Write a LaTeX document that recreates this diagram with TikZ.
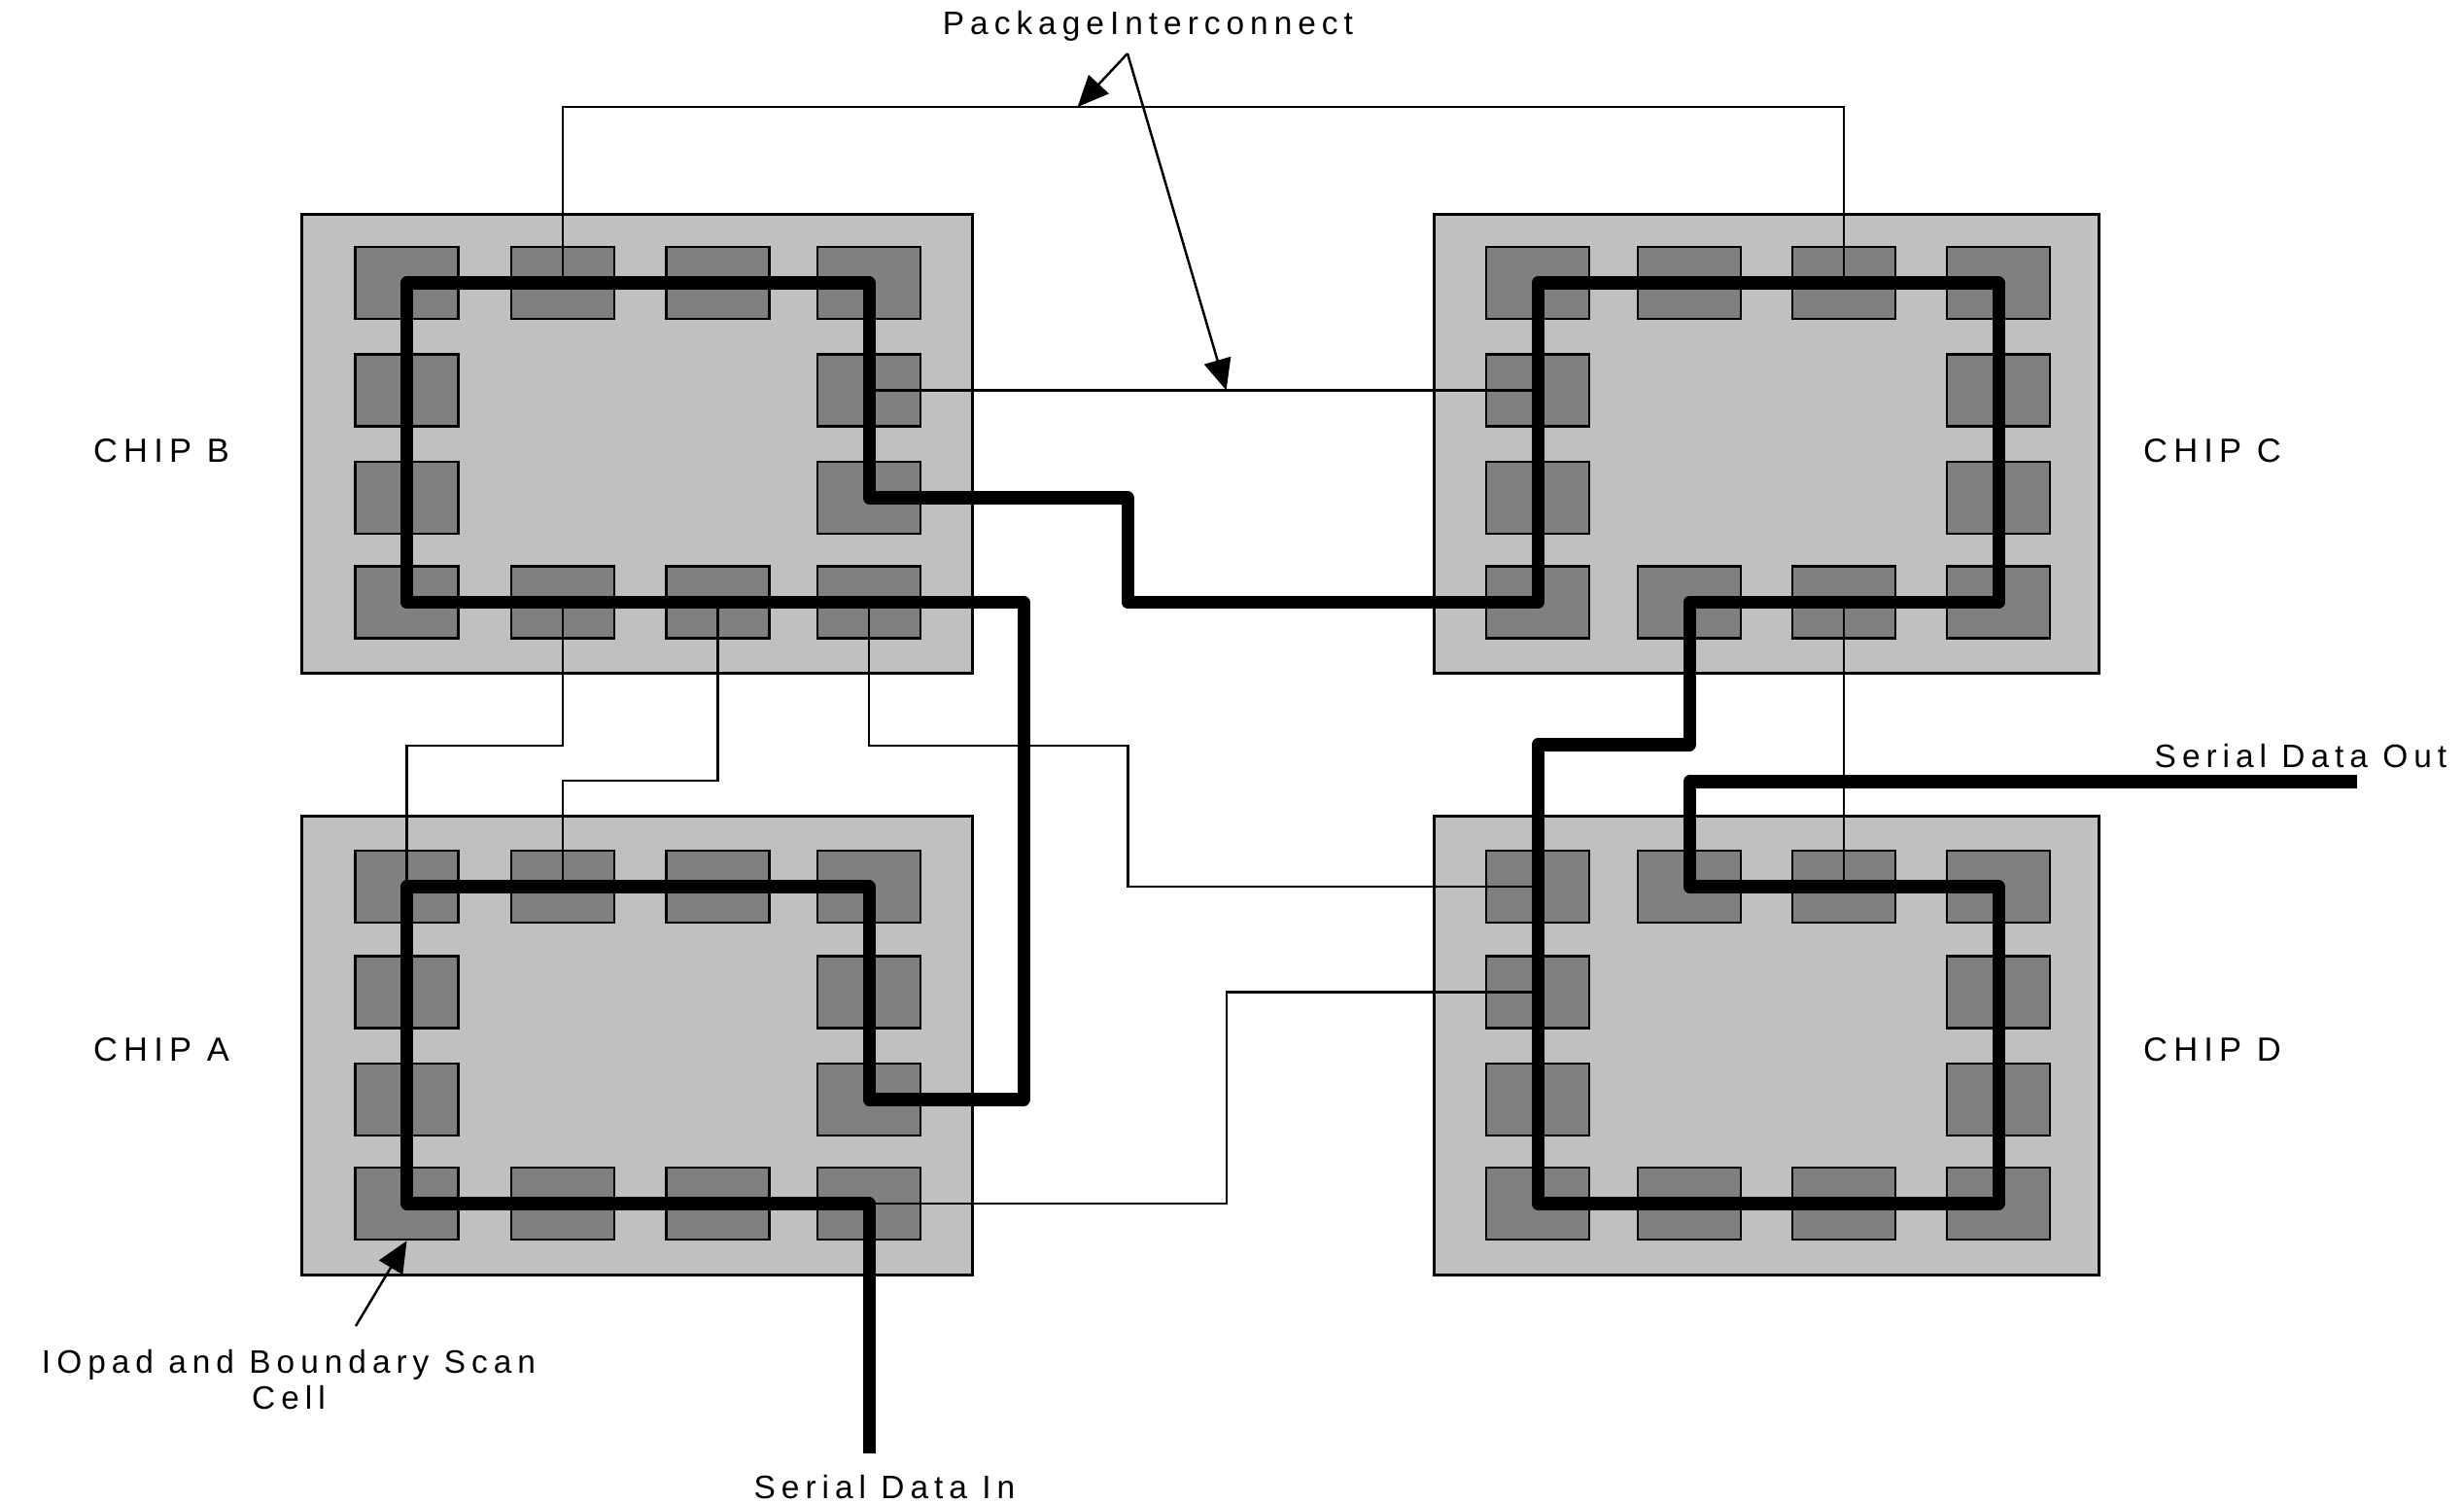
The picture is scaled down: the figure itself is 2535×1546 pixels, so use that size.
\documentclass[tikz,border=0pt]{standalone}
\usepackage{fontspec}
\setmainfont{Liberation Sans}
\newfontfamily\lblfont[LetterSpace=18,WordSpace=0.6]{Liberation Sans}
\newfontfamily\chipfont[LetterSpace=18]{Liberation Sans}
\usetikzlibrary{arrows.meta}
\definecolor{chipgray}{RGB}{192,192,192}
\definecolor{padgray}{RGB}{128,128,128}
\begin{document}
\begin{tikzpicture}[x=0.01cm,y=-0.01cm,
  chipbox/.style={draw=black, fill=chipgray, line width=0.85pt, inner sep=0pt, minimum height=4.71cm},
  pad/.style={draw=black, fill=padgray, line width=0.75pt, inner sep=0pt, minimum width=1.06cm, minimum height=0.74cm},
  wire/.style={draw=black, line width=0.6pt},
  scan/.style={draw=black, line width=3.7pt, line join=round},
  ptr/.style={draw=black, line width=0.7pt, -{Triangle[length=0.32cm, width=0.28cm]}},
  lbl/.style={font=\lblfont\fontsize{9.5}{10.5}\selectfont, inner sep=0pt},
  chiplbl/.style={font=\chipfont\fontsize{9.8}{11}\selectfont, inner sep=0pt}]
\useasboundingbox (0,0) rectangle (2535,1546);
\fill[white] (0,0) rectangle (2535,1546);

% chips
\node[chipbox, minimum width=6.89cm] (chipB) at (655.5,456.5) {};
\node[chipbox, minimum width=6.83cm] (chipC) at (1817.5,456.5) {};
\node[chipbox, minimum width=6.89cm] (chipA) at (655.5,1075.5) {};
\node[chipbox, minimum width=6.83cm] (chipD) at (1817.5,1075.5) {};

% pads of chips B and A
\foreach \c/\px in {1/418.5,2/579,3/738.5,4/894} {
  \node[pad] (B-1-\c) at (\px,291) {};
  \node[pad] (B-4-\c) at (\px,619.5) {};
  \node[pad] (A-1-\c) at (\px,912) {};
  \node[pad] (A-4-\c) at (\px,1238) {};
}
\foreach \c/\px in {1/418.5,4/894} {
  \node[pad] (B-2-\c) at (\px,401.5) {};
  \node[pad] (B-3-\c) at (\px,512) {};
  \node[pad] (A-2-\c) at (\px,1020.5) {};
  \node[pad] (A-3-\c) at (\px,1131) {};
}
% pads of chips C and D
\foreach \c/\px in {1/1582,2/1738,3/1897,4/2056} {
  \node[pad] (C-1-\c) at (\px,291) {};
  \node[pad] (C-4-\c) at (\px,619.5) {};
  \node[pad] (D-1-\c) at (\px,912) {};
  \node[pad] (D-4-\c) at (\px,1238) {};
}
\foreach \c/\px in {1/1582,4/2056} {
  \node[pad] (C-2-\c) at (\px,401.5) {};
  \node[pad] (C-3-\c) at (\px,512) {};
  \node[pad] (D-2-\c) at (\px,1020.5) {};
  \node[pad] (D-3-\c) at (\px,1131) {};
}

% package interconnect wires
\coordinate (pt) at (1000,110);
\draw[wire] (B-1-2.center) |- (pt) -| (C-1-3.center);
\draw[wire] (B-2-4.center) -- (C-2-1.center);
\coordinate (w1) at (500,767);
\draw[wire] (B-4-2.center) |- (w1) -| (A-1-1.center);
\coordinate (w2) at (650,803);
\draw[wire] (B-4-3.center) |- (w2) -| (A-1-2.center);
\coordinate (w3) at (1160.5,767);
\coordinate (w4) at (1160.5,912);
\draw[wire] (B-4-4.center) |- (w3) -- (w4) -- (D-1-1.center);
\draw[wire] (C-4-3.center) -- (D-1-3.center);
\coordinate (w5) at (1262,1238);
\coordinate (w6) at (1262,1020.5);
\draw[wire] (A-4-4.center) -- (w5) -- (w6) -- (D-2-1.center);

% boundary scan chain
\coordinate (sdi) at (894,1495);
\coordinate (s1) at (1053,1131);
\coordinate (s2) at (1053,619.5);
\coordinate (s3) at (1160,512);
\coordinate (s4) at (1160,619.5);
\coordinate (s5) at (1738,766);
\coordinate (s6) at (1582,766);
\coordinate (s7) at (1738,804);
\coordinate (sdo) at (2425,804);
\draw[scan] (sdi) -- (A-4-4.center) -- (A-4-1.center) -- (A-1-1.center) -- (A-1-4.center)
  -- (A-3-4.center) -- (s1) -- (s2) -- (B-4-1.center) -- (B-1-1.center) -- (B-1-4.center)
  -- (B-3-4.center) -- (s3) -- (s4) -- (C-4-1.center) -- (C-1-1.center) -- (C-1-4.center)
  -- (C-4-4.center) -- (C-4-2.center) -- (s5) -- (s6) -- (D-4-1.center) -- (D-4-4.center)
  -- (D-1-4.center) -- (D-1-2.center) -- (s7) -- (sdo);

% labels
\node[lbl, anchor=base] (pkgL) at (1181,36) {PackageInterconnect};
\coordinate (apex) at (1160,55);
\coordinate (pi1) at (1108.6,110);
\coordinate (pi2) at (1261.6,401.5);
\draw[ptr] (apex) -- (pi1);
\draw[ptr] (apex) -- (pi2);

\node[chiplbl, anchor=base] (labB) at (166,476) {CHIP B};
\node[chiplbl, anchor=base] (labA) at (166,1091) {CHIP A};
\node[chiplbl, anchor=base] (labC) at (2276,476) {CHIP C};
\node[chiplbl, anchor=base] (labD) at (2276,1091) {CHIP D};

\node[lbl, anchor=base] (sdoL) at (2367,790) {Serial Data Out};
\node[lbl, anchor=base] (sdiL) at (910,1541) {Serial Data In};
\node[lbl, align=center] (ioL) at (297,1419) {IOpad and Boundary Scan\\Cell};
\coordinate (ioT) at (366,1364);
\draw[ptr] (ioT) -- (A-4-1.south);
\end{tikzpicture}
\end{document}
